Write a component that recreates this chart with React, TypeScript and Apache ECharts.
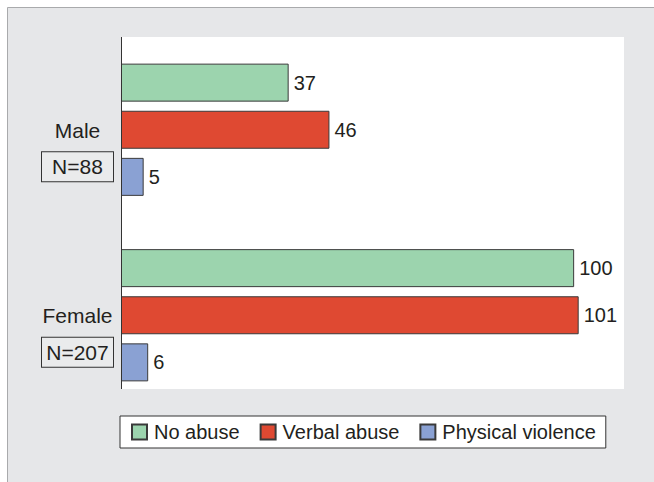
import React, { useEffect, useRef } from "react";
import * as echarts from "echarts";

const categories = ["Male", "Female"];
const groupSizes = ["N=88", "N=207"];
const seriesNames = ["No abuse", "Verbal abuse", "Physical violence"];
const noAbuse = [37, 100];
const verbalAbuse = [46, 101];
const physicalViolence = [5, 6];
const seriesColors = ["#9cd4ae", "#df4932", "#8aa1d3"];

const FONT = "'Liberation Sans', Arial, sans-serif";
const TEXT = "#231f20";

export default function App() {
  const ref = useRef<HTMLDivElement>(null);
  useEffect(() => {
    document.body.style.margin = "0";
    const chart = echarts.init(ref.current!, undefined, { renderer: "svg" });
    const values = [noAbuse, verbalAbuse, physicalViolence];
    chart.setOption({
      animation: false,
      backgroundColor: "#ffffff",
      textStyle: { fontFamily: FONT, color: TEXT },
      graphic: [
        {
          type: "rect",
          z: -10,
          shape: { x: 7.5, y: 7.5, width: 660, height: 500 },
          style: { fill: "#e6e7e9", stroke: "#a9aaac", lineWidth: 1 },
        },
        {
          type: "rect",
          z: -5,
          shape: { x: 121, y: 37, width: 503, height: 352 },
          style: { fill: "#ffffff" },
        },
        {
          type: "line",
          z: 10,
          shape: { x1: 121.5, y1: 37, x2: 121.5, y2: 389 },
          style: { stroke: "#333333", lineWidth: 1 },
        },
      ],
      grid: { left: 121, top: 37, width: 503, height: 371, containLabel: false },
      xAxis: { type: "value", min: 0, max: 111, show: false },
      yAxis: {
        type: "category",
        inverse: true,
        data: categories,
        axisLine: { show: false },
        axisTick: { show: false },
        axisLabel: {
          margin: 43.5,
          align: "center",
          padding: [32, 0, 0, 0],
          formatter: (v: string, i: number) => `{name|${v}}\n{box|${groupSizes[i]}}`,
          rich: {
            name: { fontSize: 21, lineHeight: 42, color: TEXT, fontFamily: FONT, align: "center" },
            box: {
              fontSize: 21,
              color: TEXT,
              fontFamily: FONT,
              width: 71,
              height: 29,
              lineHeight: 31,
              align: "center",
              borderColor: "#333333",
              borderWidth: 1,
              backgroundColor: "#eaebec",
            },
          },
        },
      },
      legend: {
        left: 120,
        top: 416,
        data: seriesNames,
        icon: "rect",
        itemWidth: 15,
        itemHeight: 15,
        itemGap: 20,
        padding: [6, 10, 6, 11],
        backgroundColor: "#ffffff",
        borderColor: "#333333",
        borderWidth: 1,
        borderRadius: 0,
        textStyle: { fontSize: 20, color: TEXT, fontFamily: FONT, padding: [0, 0, 0, 2] },
      },
      series: seriesNames.map((name, i) => ({
        name,
        type: "bar",
        data: values[i],
        barWidth: 38,
        barGap: "24%",
        itemStyle: { color: seriesColors[i], borderColor: "#3a3a3a", borderWidth: 1 },
        label: {
          show: true,
          position: "right",
          distance: 5,
          fontSize: 20,
          color: TEXT,
          fontFamily: FONT,
        },
      })),
    });
    return () => chart.dispose();
  }, []);
  return <div ref={ref} style={{ width: 654, height: 482 }} />;
}
